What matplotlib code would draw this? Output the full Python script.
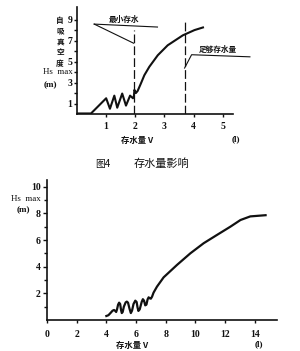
import matplotlib
matplotlib.use("Agg")
import matplotlib.pyplot as plt

W, H = 300, 351
CJK = ["Noto Sans CJK SC", "DejaVu Sans"]
SERIF = "Liberation Serif"
INK = "#111111"

# ── data: figure 4 (top) ──────────────────────────────────────────────
top_v = [0.0, 0.48, 1.0, 1.13, 1.28, 1.38, 1.55, 1.68, 1.82, 1.92, 1.95,
         1.97, 2.02, 2.08, 2.19, 2.31, 2.48, 2.77, 3.11, 3.63, 4.03, 4.32]
top_hs = [0.05, 0.05, 1.5, 0.5, 1.75, 0.6, 1.95, 0.8, 1.75, 1.5, 1.7,
          2.3, 2.0, 2.2, 2.9, 3.7, 4.5, 5.6, 6.55, 7.5, 8.0, 8.25]
top_xticks = [1, 2, 3, 4, 5]
top_yticks = [1, 3, 5, 7, 9]
top_yminor = [2, 4, 6, 8]
min_water_v = 1.94      # 最小存水
enough_water_v = 3.69   # 足够存水量

# ── data: second chart (bottom) ───────────────────────────────────────
bot_v = [4.0, 4.14, 4.3, 4.42, 4.52, 4.6, 4.66, 4.72, 4.79, 4.86, 4.93,
         4.99, 5.04, 5.1, 5.18, 5.3, 5.38, 5.46, 5.56, 5.65, 5.73, 5.83,
         5.95, 6.04, 6.1, 6.16, 6.25, 6.38, 6.46, 6.54, 6.62, 6.7, 6.78,
         6.85, 6.93, 7.0, 7.08, 7.18, 7.41, 7.86, 8.76, 9.66, 10.56,
         11.47, 12.36, 13.04, 13.7, 14.73]
bot_hs = [0.3, 0.36, 0.55, 0.7, 0.75, 0.68, 0.6, 0.8, 1.15, 1.3, 1.2,
          0.75, 0.52, 0.6, 1.0, 1.32, 1.38, 1.3, 0.85, 0.52, 0.7, 1.2,
          1.45, 1.35, 0.95, 0.68, 0.8, 1.35, 1.56, 1.45, 1.1, 1.15, 1.55,
          1.7, 1.62, 1.6, 1.75, 2.05, 2.5, 3.2, 4.13, 5.0, 5.76,
          6.39, 7.0, 7.5, 7.77, 7.86]
bot_xticks = [0, 2, 4, 6, 8, 10, 12, 14]
bot_yticks = [2, 4, 6, 8, 10]
bot_yminor = [1, 3, 5, 7, 9]


def px(x, y):
    return x / W, 1 - y / H


def style_axes(ax):
    for s in ("top", "right"):
        ax.spines[s].set_visible(False)
    for s in ("left", "bottom"):
        ax.spines[s].set_linewidth(1.2)
        ax.spines[s].set_color(INK)
    ax.tick_params(which="both", colors=INK, width=1.0, direction="out")
    for lab in ax.get_xticklabels() + ax.get_yticklabels():
        lab.set_fontfamily(SERIF)
        lab.set_fontweight("bold")
        lab.set_fontsize(7)


fig = plt.figure(figsize=(W / 100, H / 100), dpi=100, facecolor="white")

# ── top chart ─────────────────────────────────────────────────────────
ax1 = fig.add_axes([77 / W, 1 - 114 / H, 156 / W, 107 / H])
ax1.set_xlim(0, 5.35)
ax1.set_ylim(0, 10.2)
ax1.plot(top_v, top_hs, color=INK, lw=1.5, solid_joinstyle="round")
ax1.plot([min_water_v, min_water_v], [0, 8.0], color=INK, lw=0.9,
         linestyle=(0, (7, 2.5)))
ax1.plot([enough_water_v, enough_water_v], [0, 9.0], color=INK, lw=0.9,
         linestyle=(0, (7, 2.5)))
# leader lines
ax1.plot([0.59, 2.76], [8.57, 8.29], color=INK, lw=0.8, clip_on=False)
ax1.plot([0.59, min_water_v], [8.57, 6.75], color=INK, lw=0.8, clip_on=False)
ax1.plot([enough_water_v, 3.93, 5.93], [4.38, 5.65, 5.45], color=INK,
         lw=0.8, clip_on=False)
ax1.text(1.62, 9.05, "最小存水", family=CJK, fontsize=5.5, weight="bold",
         ha="center", va="center", color=INK)
ax1.text(4.83, 6.2, "足够存水量", family=CJK, fontsize=5.5, weight="bold",
         ha="center", va="center", color=INK, clip_on=False)
ax1.set_xticks(top_xticks)
ax1.set_yticks(top_yticks)
ax1.set_yticks(top_yminor, minor=True)
ax1.tick_params(axis="y", which="major", length=2.5, pad=0.8)
ax1.tick_params(axis="y", which="minor", length=2)
ax1.tick_params(axis="x", length=2, pad=4)
style_axes(ax1)

fig.text(*px(60, 42), "自\n吸\n真\n空\n度", family=CJK, fontsize=5.5,
         weight="bold", ha="center", va="center", linespacing=1.25, color=INK)
fig.text(*px(58, 72), "Hs  max", family=SERIF, fontsize=6.5,
         ha="center", va="center", color=INK)
fig.text(*px(50, 85), "(m)", family=SERIF, fontsize=6.5, weight="bold",
         ha="center", va="center", color=INK)
fig.text(*px(137, 140), "存水量 V", family=CJK, fontsize=6, weight="bold",
         ha="center", va="center", color=INK)
fig.text(*px(236, 139), "(l)", family=SERIF, fontsize=6.5, weight="bold",
         ha="center", va="center", color=INK)
fig.text(*px(95, 164), "图4", family=CJK, fontsize=7, ha="left",
         va="center", color=INK)
fig.text(*px(161, 164), "存水量影响", family=CJK, fontsize=8, ha="center",
         va="center", color=INK)

# ── bottom chart ──────────────────────────────────────────────────────
ax2 = fig.add_axes([47 / W, 1 - 320 / H, 230 / W, 140 / H])
ax2.set_xlim(0, 15.5)
ax2.set_ylim(0, 10.5)
ax2.plot(bot_v, bot_hs, color=INK, lw=1.6, solid_joinstyle="round")
ax2.set_xticks(bot_xticks)
ax2.set_yticks(bot_yticks)
ax2.set_yticks(bot_yminor, minor=True)
ax2.tick_params(axis="y", which="major", length=3, pad=1.5)
ax2.tick_params(axis="y", which="minor", length=2)
ax2.tick_params(axis="x", length=2, pad=5)
style_axes(ax2)

fig.text(*px(26, 199), "Hs  max", family=SERIF, fontsize=6.5,
         ha="center", va="center", color=INK)
fig.text(*px(23, 210), "(m)", family=SERIF, fontsize=6.5, weight="bold",
         ha="center", va="center", color=INK)
fig.text(*px(132, 345), "存水量 V", family=CJK, fontsize=6, weight="bold",
         ha="center", va="center", color=INK)
fig.text(*px(259, 344), "(l)", family=SERIF, fontsize=6.5, weight="bold",
         ha="center", va="center", color=INK)

fig.savefig("out.png", dpi=100, facecolor="white")
